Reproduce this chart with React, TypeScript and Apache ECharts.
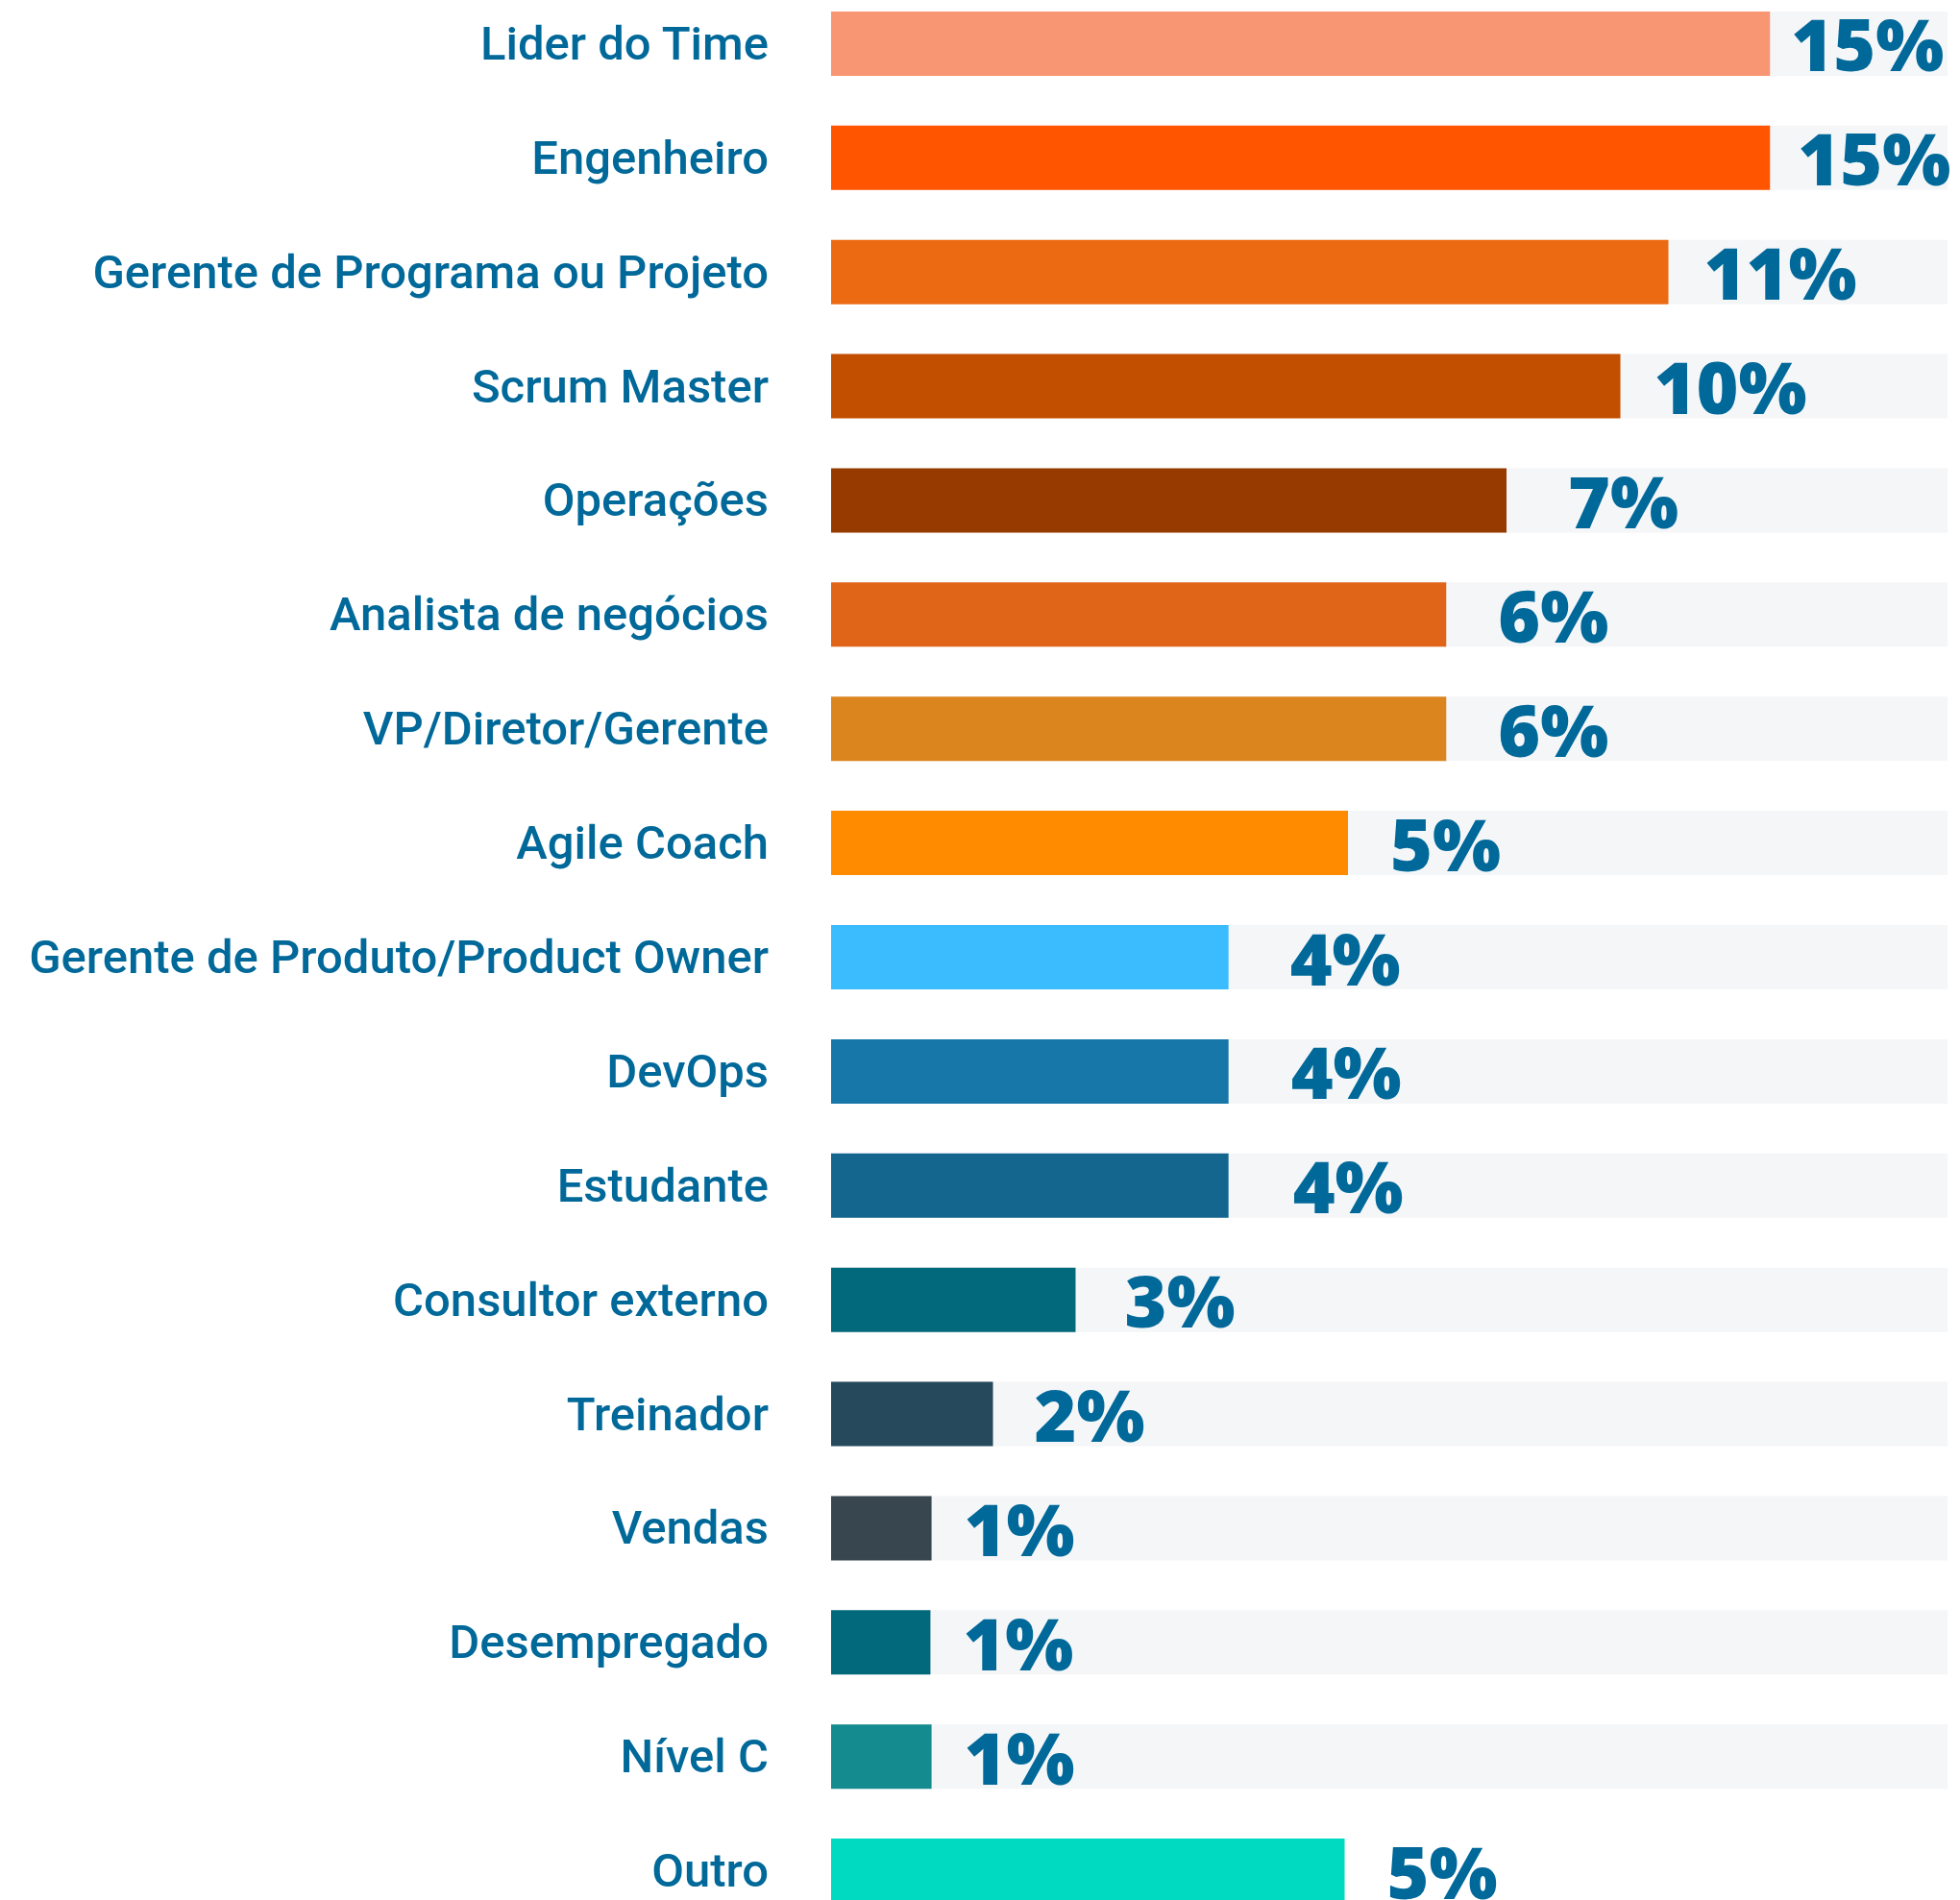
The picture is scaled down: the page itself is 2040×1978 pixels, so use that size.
import React, { useEffect, useRef } from "react";
import * as echarts from "echarts";

const categories = [
  "Lider do Time",
  "Engenheiro",
  "Gerente de Programa ou Projeto",
  "Scrum Master",
  "Operações",
  "Analista de negócios",
  "VP/Diretor/Gerente",
  "Agile Coach",
  "Gerente de Produto/Product Owner",
  "DevOps",
  "Estudante",
  "Consultor externo",
  "Treinador",
  "Vendas",
  "Desempregado",
  "Nível C",
  "Outro",
];

// Percent labels as printed next to each bar
const percentLabels = [
  "15%", "15%", "11%", "10%", "7%", "6%", "6%", "5%",
  "4%", "4%", "4%", "3%", "2%", "1%", "1%", "1%", "5%",
];

// Bar length as a share of the full grey track (0-100)
const barShare = [
  84.1, 84.1, 75.0, 70.7, 60.5, 55.1, 55.1, 46.3,
  35.6, 35.6, 35.6, 21.9, 14.5, 9.0, 8.9, 9.0, 46.0,
];

// Whether the light grey track is drawn behind the row ("Outro" has none)
const hasTrack = [
  true, true, true, true, true, true, true, true,
  true, true, true, true, true, true, true, true, false,
];
const TRACK_MAX = 100;

// Styles (kept separate from the data)
const barColors = [
  "#F89673", "#FF5500", "#EC6A12", "#C24E00", "#963A00", "#E06518",
  "#DB851E", "#FF8C00", "#3BBCFF", "#1777A8", "#14668F", "#02687C",
  "#26495C", "#37464F", "#02687C", "#138B8F", "#00DAC0",
];
const labelGaps = [
  22, 29, 37, 35, 64, 54, 54, 44, 64, 65, 67, 51, 43, 34, 34, 34, 44,
];

const TEXT_COLOR = "#00699A";

export default function App() {
  const ref = useRef<HTMLDivElement>(null);

  useEffect(() => {
    if (!ref.current) return;
    const chart = echarts.init(ref.current, null, { renderer: "svg" });
    chart.setOption({
      animation: false,
      backgroundColor: "#FFFFFF",
      grid: {
        left: 865,
        right: 13,
        top: 0,
        bottom: 0,
        containLabel: false,
      },
      xAxis: {
        type: "value",
        min: 0,
        max: TRACK_MAX,
        show: false,
      },
      yAxis: {
        type: "category",
        data: categories,
        inverse: true,
        axisLine: { show: false },
        axisTick: { show: false },
        splitLine: { show: false },
        axisLabel: {
          margin: 65,
          color: TEXT_COLOR,
          fontSize: 49,
          fontWeight: 500,
          fontFamily: "Roboto, 'Noto Sans', sans-serif",
        },
      },
      series: [
        {
          type: "bar",
          name: "track",
          barWidth: 67,
          barGap: "-100%",
          silent: true,
          z: 1,
          itemStyle: { color: "#F5F6F8" },
          data: hasTrack.map((t) => (t ? TRACK_MAX : "-")),
        },
        {
          type: "bar",
          name: "share",
          barWidth: 67,
          barGap: "-100%",
          z: 2,
          data: barShare.map((v, i) => ({
            value: v,
            itemStyle: { color: barColors[i] },
            label: { distance: labelGaps[i] },
          })),
          label: {
            show: true,
            position: "right",
            color: TEXT_COLOR,
            fontSize: 75,
            lineHeight: 56,
            fontWeight: 800,
            fontFamily: "'Open Sans', Inter, sans-serif",
            formatter: (p: any) => percentLabels[p.dataIndex],
          },
        },
      ],
    });
    return () => chart.dispose();
  }, []);

  return (
    <div
      style={{
        position: "absolute",
        left: 0,
        top: 0,
        width: 2040,
        height: 1978,
        overflow: "hidden",
        background: "#FFFFFF",
      }}
    >
      <div
        ref={ref}
        style={{ position: "absolute", left: 0, top: -14.5, width: 2040, height: 2021 }}
      />
    </div>
  );
}
